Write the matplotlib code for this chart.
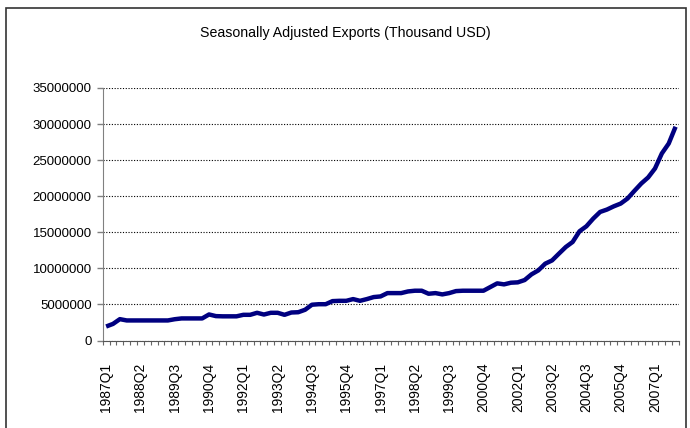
import numpy as np
import matplotlib.pyplot as plt
from matplotlib.patches import Rectangle
from matplotlib.ticker import FixedLocator, NullFormatter

plt.rcParams["font.family"] = ["Liberation Sans", "DejaVu Sans"]

# quarters 1987Q1 .. 2007Q4
quarters = [f"{y}Q{q}" for y in range(1987, 2008) for q in range(1, 5)]

# seasonally adjusted exports, million USD, x1e6 -> thousand USD
exports_m = [
    1.94, 2.30, 2.96, 2.78, 2.78, 2.78, 2.78, 2.78, 2.78, 2.78,
    2.95, 3.06, 3.06, 3.06, 3.06, 3.61, 3.38, 3.35, 3.35, 3.35,
    3.56, 3.56, 3.84, 3.60, 3.84, 3.84, 3.56, 3.88, 3.92, 4.26,
    4.96, 5.03, 5.03, 5.46, 5.50, 5.50, 5.74, 5.50, 5.74, 6.02,
    6.11, 6.57, 6.57, 6.57, 6.80, 6.90, 6.90, 6.48, 6.57, 6.39,
    6.57, 6.85, 6.90, 6.90, 6.90, 6.90, 7.41, 7.92, 7.78, 8.01,
    8.06, 8.38, 9.17, 9.72, 10.65, 11.10, 12.04, 12.96, 13.66, 15.14,
    15.83, 16.90, 17.82, 18.15, 18.60, 18.98, 19.68, 20.74, 21.76, 22.60,
    23.84, 25.93, 27.30, 29.63,
]
exports = np.array(exports_m) * 1e6

fig = plt.figure(figsize=(6.9, 4.28), dpi=100)
ax = fig.add_axes([102.7 / 690, 1 - 340.5 / 428, (679 - 102.7) / 690, (340.5 - 88) / 428])

x = np.arange(len(quarters))
ax.plot(x, exports, color="#000080", linewidth=3.2, solid_capstyle="butt", zorder=3)

ax.set_xlim(-0.5, len(quarters) - 0.5)
ax.set_ylim(0, 35000000)
ax.set_yticks(np.arange(0, 35000001, 5000000))
ax.yaxis.set_major_formatter(plt.FuncFormatter(lambda v, p: f"{int(v)}"))
ax.grid(axis="y", color="black", linestyle=(0, (1, 1.5)), linewidth=0.8)
ax.set_axisbelow(True)

# labels every 5 quarters, tick marks between categories
ax.set_xticks(x[::5])
ax.set_xticklabels(quarters[::5], rotation=90, ha="center", va="top")
ax.xaxis.set_minor_locator(FixedLocator(np.arange(-0.5, len(quarters), 1.0)))
ax.xaxis.set_minor_formatter(NullFormatter())
ax.tick_params(axis="x", which="major", length=0, pad=16, labelsize=10)
ax.tick_params(axis="x", which="minor", length=3, color="#666666", width=0.8)
ax.tick_params(axis="y", length=4, color="#808080", width=1, pad=4, labelsize=9.5)

for side in ["top", "right"]:
    ax.spines[side].set_visible(False)
ax.spines["left"].set_color("#808080")
ax.spines["bottom"].set_color("#555555")

fig.text(0.5, 1 - 33 / 428, "Seasonally Adjusted Exports (Thousand USD)",
         ha="center", va="center", fontsize=10.2)

# chart border
fig.patches.append(Rectangle((6 / 690, -0.1), 680 / 690, 1.1 - 8 / 428,
                             transform=fig.transFigure, fill=False,
                             edgecolor="#333333", linewidth=1.2))

fig.savefig("out.png", dpi=100)
